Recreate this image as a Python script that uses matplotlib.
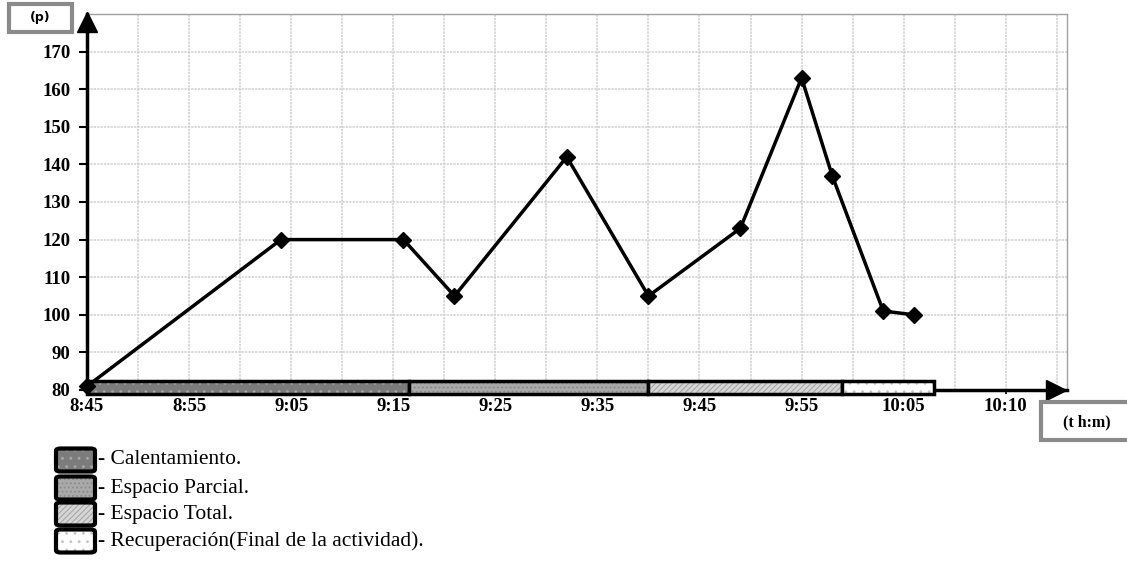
import matplotlib
matplotlib.use("Agg")
import matplotlib.pyplot as plt
from matplotlib.patches import FancyBboxPatch, Rectangle

# time in minutes after 8:45, pulse (p)
minutes = [0, 19, 31, 36, 47, 55, 64, 70, 73, 78, 81]
pulse = [81, 120, 120, 105, 142, 105, 123, 163, 137, 101, 100]

tick_minutes = [0, 10, 20, 30, 40, 50, 60, 70, 80, 90]
tick_labels = ["8:45", "8:55", "9:05", "9:15", "9:25", "9:35", "9:45", "9:55", "10:05", "10:10"]

phase_names = ["Calentamiento.", "Espacio Parcial.", "Espacio Total.",
               "Recuperación(Final de la actividad)."]
phase_start = [0, 31.5, 55, 74]
phase_end = [31.5, 55, 74, 83]

# fill colour, hatch, hatch colour for each phase
phase_fill = ["#7c7c7c", "#a9a9a9", "#d6d6d6", "#ffffff"]
phase_hatch = ["..", "....", "//////", ".."]
phase_hatch_col = ["#a8a8a8", "#8a8a8a", "#a8a8a8", "#c4c4c4"]

plt.rcParams["hatch.linewidth"] = 0.8

fig = plt.figure(figsize=(11.27, 5.61), dpi=100)
W, H = 1127, 561
ax = fig.add_axes([87 / W, 1 - 390 / H, 980 / W, 376 / H])

ax.set_xlim(0, 96)
ax.set_ylim(80, 180)

# grid
ax.set_xticks(tick_minutes)
ax.set_xticklabels(tick_labels)
ax.set_xticks(range(5, 96, 5), minor=True)
ax.set_yticks(range(80, 171, 10))
ax.grid(True, which="both", color="#cfcfcf", linestyle=(0, (1.5, 0.7)), linewidth=1.1)
ax.set_axisbelow(True)

for lab in ax.get_xticklabels() + ax.get_yticklabels():
    lab.set_fontfamily("Liberation Serif")
    lab.set_fontweight("bold")
    lab.set_fontsize(13.5)
ax.tick_params(axis="y", length=6, width=1.5, pad=6, direction="out")
ax.tick_params(axis="x", which="major", length=3, width=1.2, pad=3)
ax.tick_params(axis="x", which="minor", length=0)

for s in ["top", "right"]:
    ax.spines[s].set_color("#a0a0a0")
    ax.spines[s].set_linewidth(1)
for s in ["left", "bottom"]:
    ax.spines[s].set_color("black")
    ax.spines[s].set_linewidth(2.5)
    ax.spines[s].set_zorder(4)

# arrow heads on axes
ax.plot([0], [178], marker="^", color="black", markersize=14, clip_on=False, zorder=6)
ax.plot([94.9], [80], marker=">", color="black", markersize=14, clip_on=False, zorder=6)

# phase bars
for i in range(len(phase_names)):
    ax.barh(80.7, phase_end[i] - phase_start[i], left=phase_start[i], height=3.4,
            color=phase_fill[i], hatch=phase_hatch[i], edgecolor=phase_hatch_col[i],
            linewidth=0, clip_on=False, zorder=5)
    ax.barh(80.7, phase_end[i] - phase_start[i], left=phase_start[i], height=3.4,
            fill=False, edgecolor="black", linewidth=2.5, clip_on=False, zorder=5)

# pulse line
ax.plot(minutes, pulse, color="black", linewidth=2.5, marker="D", markersize=8,
        clip_on=False, zorder=7)

# axis name boxes
fig.patches.append(Rectangle((9 / W, 1 - 32 / H), 63 / W, 28 / H, transform=fig.transFigure,
                             facecolor="white", edgecolor="#8a8a8a", linewidth=3))
fig.text(40 / W, 1 - 18 / H, "(p)", ha="center", va="center",
         family="DejaVu Sans", weight="bold", fontsize=9)
fig.patches.append(Rectangle((1041 / W, 1 - 440 / H), 95 / W, 38 / H, transform=fig.transFigure,
                             facecolor="white", edgecolor="#8a8a8a", linewidth=3))
fig.text(1087 / W, 1 - 422 / H, "(t h:m)", ha="center", va="center",
         family="Liberation Serif", weight="bold", fontsize=11.5)

# legend
row_y = [460, 488, 514, 541]
for i, name in enumerate(phase_names):
    y0 = 1 - (row_y[i] + 11.5) / H
    fig.patches.append(FancyBboxPatch((56 / W, y0), 39 / W, 23 / H,
                                      boxstyle="round,pad=0,rounding_size=0.004",
                                      transform=fig.transFigure, facecolor=phase_fill[i],
                                      hatch=phase_hatch[i], edgecolor=phase_hatch_col[i],
                                      linewidth=0))
    fig.patches.append(FancyBboxPatch((56 / W, y0), 39 / W, 23 / H,
                                      boxstyle="round,pad=0,rounding_size=0.004",
                                      transform=fig.transFigure, fill=False,
                                      edgecolor="black", linewidth=3))
    fig.text(98 / W, 1 - row_y[i] / H, "- " + name, ha="left", va="center",
             family="Liberation Serif", fontsize=15.5)

fig.savefig("out.png", dpi=100)
